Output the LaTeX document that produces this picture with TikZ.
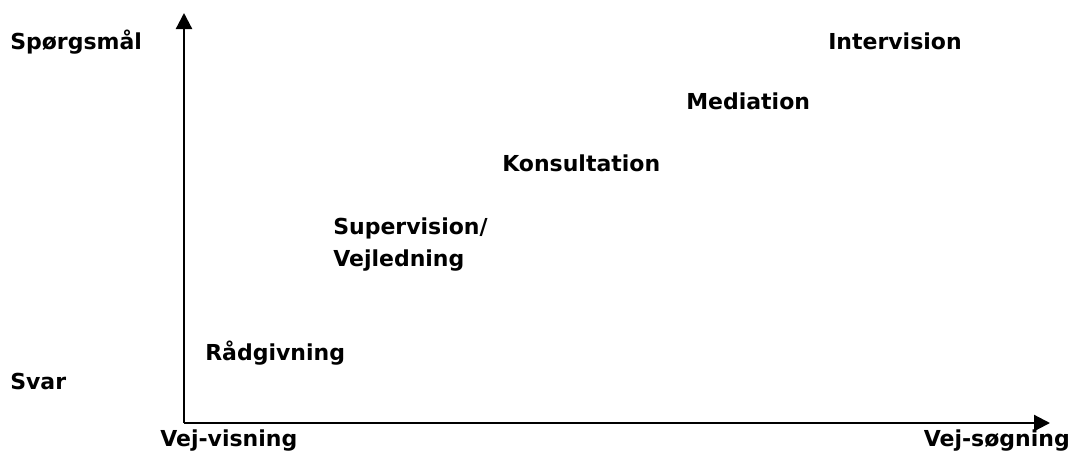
\documentclass[tikz,border=0pt]{standalone}
\usepackage{fontspec}
\setmainfont{DejaVu Sans}
\usetikzlibrary{arrows.meta}
\tikzset{
  lbl/.style={anchor=west,inner sep=0pt,font=\fontsize{16.5}{24}\selectfont\bfseries,align=left},
  axis/.style={line width=1.7pt,-{Triangle[length=12pt,width=12pt]}}
}
\begin{document}
\begin{tikzpicture}[x=0.75pt,y=-0.75pt]
  \useasboundingbox (0,0) rectangle (1074,455);
  % axes
  \coordinate (o) at (184,423);
  \coordinate (ytop) at (184,13);
  \coordinate (xend) at (1050,423);
  \draw[axis] (o) -- (ytop);
  \draw[axis] (o) -- (xend);
  % axis labels
  \node[lbl] (spm) at (10,42) {Spørgsmål};
  \node[lbl] (svar) at (10,381) {Svar};
  \node[lbl] (vvis) at (160,441) {Vej-visning};
  \node[lbl,anchor=east] (vsog) at (1070,441) {Vej-søgning};
  % forms
  \node[lbl] (raad) at (205,353) {Rådgivning};
  \node[lbl] (sup) at (333,245) {Supervision/\\Vejledning};
  \node[lbl] (kons) at (502,163) {Konsultation};
  \node[lbl] (med) at (686,101) {Mediation};
  \node[lbl] (intv) at (828,41) {Intervision};
\end{tikzpicture}
\end{document}
